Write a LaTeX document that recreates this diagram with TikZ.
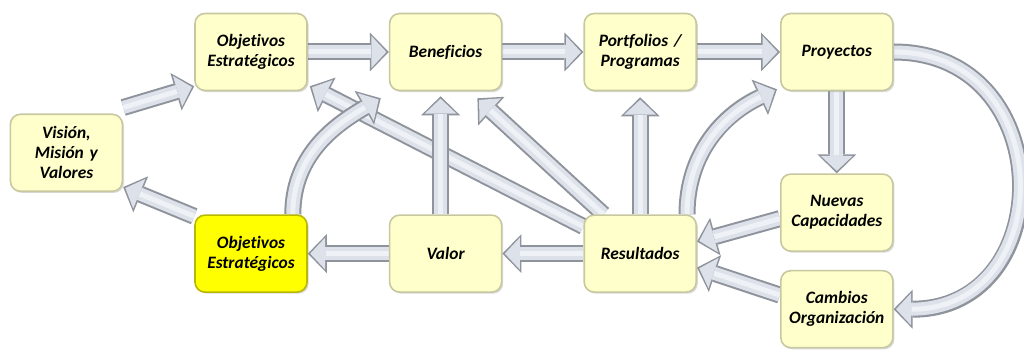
\documentclass[tikz,border=0pt]{standalone}
\usepackage{fontspec}
\setsansfont[Ligatures=NoCommon]{Carlito}
\usetikzlibrary{arrows.meta, positioning, calc, shadows, backgrounds}

\definecolor{boxfill}{HTML}{FFFFCC}
\definecolor{boxedge}{HTML}{C8C8A0}
\definecolor{hotfill}{HTML}{FFFF00}
\definecolor{hotedge}{HTML}{B8B800}
\definecolor{arrowfill}{HTML}{DDE2EA}
\definecolor{arrowedge}{HTML}{8E939C}
\definecolor{arrowlight}{HTML}{EEF1F5}

\begin{document}
\begin{tikzpicture}[
    node distance=61.5pt and 40.5pt,
    font=\fontsize{8.7}{10}\selectfont\sffamily\bfseries\itshape,
    % Define specific node styles
    stage_box/.style={rectangle, rounded corners=5pt, draw=boxedge, line width=0.8pt, fill=boxfill, minimum width=56pt, minimum height=38.5pt, text width=52pt, align=center, inner sep=0pt, drop shadow={shadow xshift=0.8pt, shadow yshift=-0.8pt, opacity=0.3}},
    focus_box/.style={stage_box, fill=hotfill, draw=hotedge},
    fat_arrow/.style={line width=6.5pt, draw=arrowfill, -{Triangle[width=16pt, length=7.5pt, line width=0pt]}, shorten >=1.2pt,
        preaction={draw=arrowedge, line width=8.5pt, -{Triangle[width=19.5pt, length=9.5pt, line width=0pt]}, shorten >=0pt},
        postaction={draw=arrowlight, line width=2.5pt, -, shorten >=9pt}},
]
\useasboundingbox (0,0) rectangle (512pt,179pt);

% Nodes top row (left to right)
\node[stage_box] (obj_top) at (125.5pt,153pt) {Objetivos\\Estratégicos};
\node[stage_box, right=of obj_top] (benef) {Beneficios};
\node[stage_box, right=of benef] (portf) {Portfolios /\\Programas};
\node[stage_box, right=41.5pt of portf] (proy) {Proyectos};

% Nodes bottom row and right column
\node[focus_box, below=of obj_top] (obj_bot) {Objetivos\\Estratégicos};
\node[stage_box, right=of obj_bot] (valor) {Valor};
\node[stage_box, right=of valor] (result) {Resultados};
\node[stage_box, below=41pt of proy] (capac) {Nuevas\\Capacidades};
\node[stage_box, below=9pt of capac] (cambio) {Cambios\\Organización};

% Start node (left side)
\node[stage_box, anchor=east] (vision) at ($(obj_top.south west)!0.5!(obj_bot.north west) + (-35.5pt,0)$) {Visión,\\Misión y\\Valores};

% Connections
\begin{scope}[on background layer]
\draw[fat_arrow] (obj_top.east) -- (benef.west);
\draw[fat_arrow] (benef.east) -- (portf.west);
\draw[fat_arrow] (portf.east) -- (proy.west);
\draw[fat_arrow] (proy.south) -- (capac.north);
\draw[fat_arrow] (proy.east) .. controls +(83pt,0) and +(83pt,0) .. (cambio.east);

\draw[fat_arrow] ([yshift=-3pt]capac.west) -- ([yshift=6pt]result.east);
\draw[fat_arrow] ([yshift=7pt]cambio.west) -- ([yshift=-7pt]result.east);

\draw[fat_arrow] (result.west) -- (valor.east);
\draw[fat_arrow] (valor.west) -- (obj_bot.east);
\draw[fat_arrow] ([yshift=13.5pt]result.west) -- ([xshift=1pt, yshift=2.5pt]obj_top.south east);
\draw[fat_arrow] ([xshift=-2.5pt]valor.north) -- ([xshift=-2.5pt, yshift=-2.5pt]benef.south);
\draw[fat_arrow] ([xshift=10pt]result.north west) -- ([xshift=-12.5pt, yshift=-3.5pt]benef.south east);
\draw[fat_arrow] (result.north) -- ([yshift=-3pt]portf.south);
\draw[fat_arrow] ([xshift=-5pt]result.north east) to[out=90, in=205] ([xshift=-1.5pt, yshift=1pt]proy.south west);
\draw[fat_arrow] ([xshift=-7.5pt]obj_bot.north east) to[out=90, in=210] ([xshift=-4pt, yshift=-3.5pt]benef.south west);

\draw[fat_arrow] ([yshift=3pt]vision.north east) -- ([yshift=2.5pt]obj_top.south west);
\draw[fat_arrow] ([yshift=-1pt]obj_bot.north west) -- ([yshift=2.5pt]vision.south east);
\end{scope}

\end{tikzpicture}
\end{document}
